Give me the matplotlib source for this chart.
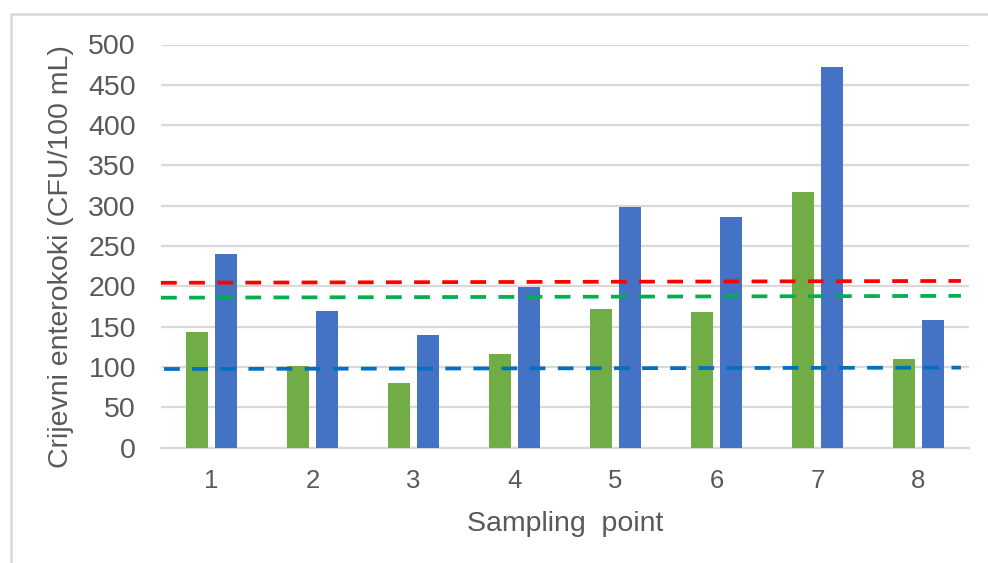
import matplotlib.pyplot as plt
from matplotlib.patches import Rectangle
import numpy as np

# =========================
# DATA
# =========================

points = ["1", "2", "3", "4", "5", "6", "7", "8"]
green_vals = [143, 101, 80, 116, 172, 168, 317, 110]
blue_vals = [240, 170, 140, 199, 298, 286, 472, 158]

# dashed limit lines: (x start, x end) and (y start, y end)
red_x = [0.5, 8.42]
red_y = [204.5, 206.8]
green_line_x = [0.5, 8.42]
green_line_y = [186.0, 188.3]
blue_line_x = [0.53, 8.42]
blue_line_y = [97.6, 99.3]

yticks = [0, 50, 100, 150, 200, 250, 300, 350, 400, 450, 500]

# =========================
# STYLE
# =========================

plt.rcParams["font.family"] = ["Liberation Sans", "DejaVu Sans"]
TEXT = "#595959"
GRID = "#D9D9D9"

fig = plt.figure(figsize=(9.88, 5.63), dpi=100)
ax = fig.add_axes([161 / 988, 1 - 447.7 / 563, 808 / 988, 403.2 / 563])

x = np.arange(1, len(points) + 1)
w = 0.22

ax.bar(x - 0.145, green_vals, width=w, color="#70AD47", zorder=2)
ax.bar(x + 0.14, blue_vals, width=w, color="#4472C4", zorder=2)

# dashed limits drawn on top of the bars
lw = 2.7
dash = (4.2, 3.3)
ax.plot(red_x, red_y, color="#FF0000", lw=lw, dashes=dash, zorder=3)
ax.plot(green_line_x, green_line_y, color="#00B050", lw=lw, dashes=dash, zorder=3)
ax.plot(blue_line_x, blue_line_y, color="#0070C0", lw=lw, dashes=dash, zorder=3)

ax.set_xlim(0.5, 8.5)
ax.set_ylim(0, 500)
ax.set_yticks(yticks)
ax.set_xticks(x)
ax.set_xticklabels(points)

ax.yaxis.grid(True, color=GRID, lw=1.6, zorder=0)
ax.set_axisbelow(True)

for s in ["top", "right", "left"]:
    ax.spines[s].set_visible(False)
ax.spines["bottom"].set_color(GRID)
ax.spines["bottom"].set_linewidth(1.6)
ax.spines["bottom"].set_zorder(1)

ax.tick_params(axis="y", length=0, pad=18, labelsize=20.5, labelcolor=TEXT)
ax.tick_params(axis="x", length=0, pad=15, labelsize=18.5, labelcolor=TEXT)

fig.text(61 / 988, 1 - 256.5 / 563, "Crijevni enterokoki (CFU/100 mL)",
         rotation=90, ha="center", va="center", fontsize=20.5, color=TEXT)
fig.text(565 / 988, 1 - 530.7 / 563, "Sampling  point",
         ha="center", va="baseline", fontsize=20.5, color=TEXT)

# chart border (cropped on right and bottom)
fig.patches.append(Rectangle((11 / 988, -0.2), 2.0, 1.2 - 14 / 563,
                             transform=fig.transFigure, fill=False,
                             edgecolor=GRID, lw=1.8))

fig.savefig("out.png", dpi=100)
